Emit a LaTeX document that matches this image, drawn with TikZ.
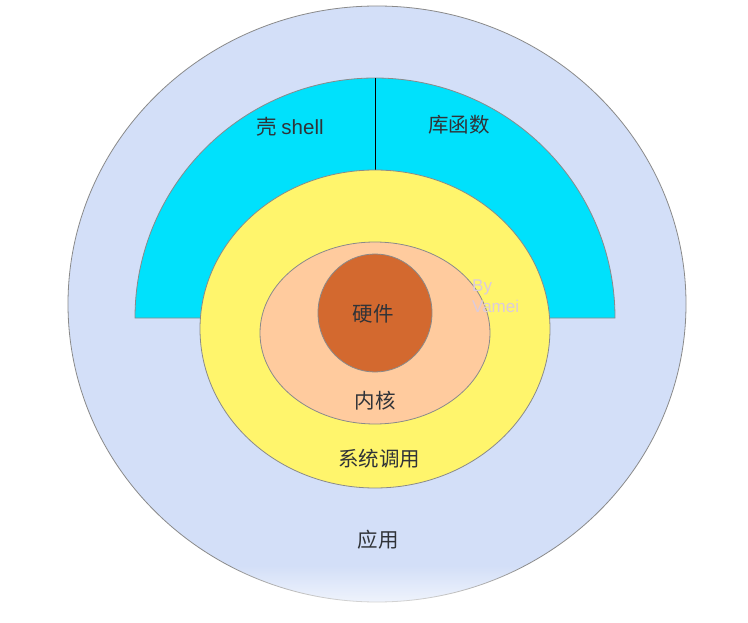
\documentclass[tikz,border=0pt]{standalone}
\usepackage{fontspec}
\setmainfont{Noto Sans CJK SC}
\newfontfamily\latinsans{Liberation Sans}
\usetikzlibrary{fadings}
\definecolor{appblue}{HTML}{D3DFF8}
\definecolor{shellcyan}{HTML}{00E1FC}
\definecolor{sysyellow}{HTML}{FFF56C}
\definecolor{kernpeach}{HTML}{FFCB9E}
\definecolor{hwbrown}{HTML}{D3692F}
\definecolor{edgegray}{HTML}{8A8A8A}
\definecolor{textdark}{HTML}{303338}
\definecolor{wmark}{HTML}{DCCBDC}
\tikzfading[name=fadedown, top color=transparent!100, bottom color=transparent!0]
\tikzset{
  layer/.style={draw=edgegray, line width=0.8pt},
  lbl/.style={text=textdark, font=\fontsize{20.5}{24}\selectfont, inner sep=0pt},
}
\begin{document}
\begin{tikzpicture}[x=1pt,y=-1pt]
\useasboundingbox (0,0) rectangle (748,623);
\fill[white] (0,0) rectangle (748,623);
% application
\draw[layer, fill=appblue] (377,304) ellipse [x radius=309, y radius=298];
% shell + library half ring
\draw[layer, fill=shellcyan] (135,318) arc[start angle=180, end angle=360, radius=240]
  -- (515,318) arc[start angle=0, end angle=-180, radius=140] -- cycle;
\coordinate (divtop) at (375,78);
\coordinate (divbot) at (375,182);
\draw[black, line width=0.9pt] (divtop) -- (divbot);
% system call
\draw[layer, fill=sysyellow] (375,329) ellipse [x radius=175, y radius=159];
% kernel
\draw[layer, fill=kernpeach] (375,333) ellipse [x radius=115, y radius=91];
% hardware
\draw[layer, fill=hwbrown] (375,313) ellipse [x radius=57, y radius=59];
% labels
\node[lbl] (hw) at (373,314) {硬件};
\node[lbl] (kern) at (375,401) {内核};
\node[lbl] (sys) at (379,459) {系统调用};
\node[lbl] (app) at (378,540) {应用};
\node[lbl] (shell) at (290,127) {壳 {\latinsans shell}};
\node[lbl] (lib) at (459,125) {库函数};
\node[text=wmark, font=\latinsans\fontsize{17}{21}\selectfont, align=left, anchor=north west, inner sep=0pt] (wm) at (472,280) {By\\Vamei};
% bottom fade
\fill[white, path fading=fadedown] (0,565) rectangle (748,623);
\end{tikzpicture}
\end{document}
